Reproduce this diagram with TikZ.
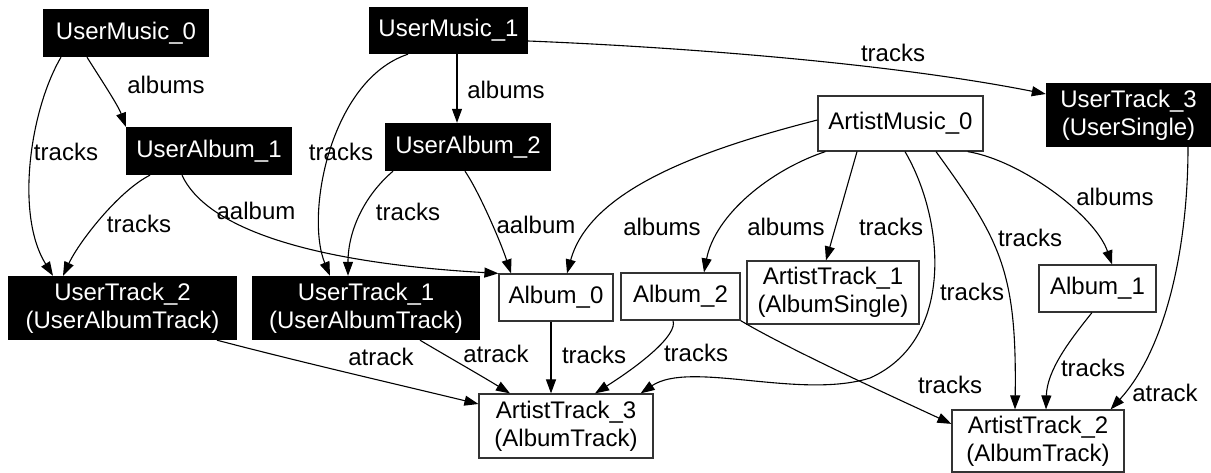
\documentclass[tikz,border=0pt]{standalone}
\usepackage{fontspec}
\setmainfont{Liberation Sans}
\usetikzlibrary{arrows.meta}
\begin{document}
\begin{tikzpicture}[x=1pt,y=-1pt,
  every node/.style={font=\fontsize{24}{28}\selectfont, inner sep=0pt, align=center},
  ublack/.style={rectangle, fill=black, text=white},
  uwhite/.style={rectangle, draw=black!80, line width=1.2pt, fill=white, text=black},
  edge/.style={line width=1.1pt, -{Triangle[length=14pt,width=10pt]}},
  lbl/.style={text=black}]
\useasboundingbox (0,0) rectangle (1211,473);
% nodes
\node[ublack, minimum width=166pt, minimum height=48pt] (um0) at (126,33) {UserMusic\_0};
\node[ublack, minimum width=159pt, minimum height=47pt] (um1) at (448.5,30.5) {UserMusic\_1};
\node[ublack, minimum width=166pt, minimum height=48pt] (ua1) at (209,151) {UserAlbum\_1};
\node[ublack, minimum width=166pt, minimum height=48pt] (ua2) at (468,147) {UserAlbum\_2};
\node[ublack, minimum width=165pt, minimum height=64pt] (ut3) at (1128.5,115) {UserTrack\_3\\(UserSingle)};
\node[uwhite, minimum width=165pt, minimum height=55pt] (am0) at (900.5,123.5) {ArtistMusic\_0};
\node[ublack, minimum width=229pt, minimum height=64pt] (ut2) at (122.5,308) {UserTrack\_2\\(UserAlbumTrack)};
\node[ublack, minimum width=228pt, minimum height=64pt] (ut1) at (366,308) {UserTrack\_1\\(UserAlbumTrack)};
\node[uwhite, minimum width=114pt, minimum height=47pt] (a0) at (556,297.5) {Album\_0};
\node[uwhite, minimum width=119pt, minimum height=47pt] (a2) at (680.5,296.5) {Album\_2};
\node[uwhite, minimum width=172pt, minimum height=63pt] (at1) at (833,292.5) {ArtistTrack\_1\\(AlbumSingle)};
\node[uwhite, minimum width=117pt, minimum height=47pt] (a1) at (1097.5,288.5) {Album\_1};
\node[uwhite, minimum width=174pt, minimum height=64pt] (at3) at (566,426) {ArtistTrack\_3\\(AlbumTrack)};
\node[uwhite, minimum width=172pt, minimum height=62pt] (at2) at (1038,441) {ArtistTrack\_2\\(AlbumTrack)};
% edges
\draw[edge] ([xshift=-39pt]um0.south) .. controls (100,78) and (118,105) .. (ua1.north west);
\draw[edge] ([xshift=-65pt]um0.south) .. controls (30,110) and (15,215) .. ([xshift=-69.5pt]ut2.north);
\draw[edge] ([xshift=-59pt]ua1.south) .. controls (120,190) and (80,240) .. ([xshift=-59.5pt]ut2.north);
\draw[edge] ([xshift=-27pt]ua1.south) .. controls (205,225) and (300,262) .. (a0.north west);
\draw[edge] ([xshift=8.5pt]um1.south) -- ([xshift=-11pt]ua2.north);
\draw[edge] ([xshift=-40.5pt]um1.south) .. controls (330,80) and (305,215) .. ([xshift=-36pt]ut1.north);
\draw[edge] ([xshift=-75pt]ua2.south) .. controls (365,195) and (348,230) .. ([xshift=-18pt]ut1.north);
\draw[edge] ([xshift=-3pt]ua2.south) .. controls (478,190) and (500,240) .. ([xshift=-45pt]a0.north);
\draw[edge] ([yshift=-10.5pt]um1.east) .. controls (700,48) and (900,65) .. ([yshift=21pt]ut3.west);
\draw[edge] ([yshift=3.5pt]am0.west) .. controls (700,150) and (590,190) .. ([xshift=11pt]a0.north);
\draw[edge] ([xshift=8pt]am0.south west) .. controls (770,170) and (715,215) .. ([xshift=23.5pt]a2.north);
\draw[edge] ([xshift=-43.5pt]am0.south) -- ([xshift=-7pt]at1.north);
\draw[edge] ([xshift=4.5pt]am0.south) .. controls (945,220) and (955,340) .. (870,378) .. controls (800,400) and (690,360) .. ([xshift=-13pt]at3.north east);
\draw[edge] ([xshift=35.5pt]am0.south) .. controls (1000,240) and (1017,270) .. ([xshift=-23pt]at2.north);
\draw[edge] ([xshift=-16pt]am0.south east) .. controls (1020,160) and (1095,215) .. ([xshift=14.5pt]a1.north);
\draw[edge] ([xshift=59.5pt]ut3.south) .. controls (1188,250) and (1165,350) .. ([xshift=-14pt]at2.north east);
\draw[edge] ([xshift=-5.5pt]a1.south) .. controls (1070,340) and (1047,370) .. ([xshift=8pt]at2.north);
\draw[edge] (a2.south east) .. controls (790,350) and (900,400) .. ([yshift=-14.5pt]at2.north west);
\draw[edge] ([xshift=-5pt]a0.south) -- ([xshift=-15pt]at3.north);
\draw[edge] ([xshift=-7.5pt]a2.south) .. controls (678,335) and (640,365) .. ([xshift=29pt]at3.north);
\draw[edge] ([xshift=54pt]ut1.south) .. controls (450,358) and (480,375) .. ([xshift=-56pt]at3.north);
\draw[edge] ([xshift=94.5pt]ut2.south) .. controls (300,362) and (400,385) .. ([yshift=22pt]at3.west);
% labels
\node[lbl] (l1) at (166,85) {albums};
\node[lbl] (l2) at (66,152) {tracks};
\node[lbl] (l3) at (139,224) {tracks};
\node[lbl] (l4) at (256,211) {aalbum};
\node[lbl] (l5) at (506,90) {albums};
\node[lbl] (l6) at (341,152) {tracks};
\node[lbl] (l7) at (408,212) {tracks};
\node[lbl] (l8) at (536,225) {aalbum};
\node[lbl] (l9) at (893,53) {tracks};
\node[lbl] (l10) at (662,227) {albums};
\node[lbl] (l11) at (786,227) {albums};
\node[lbl] (l12) at (891,227) {tracks};
\node[lbl] (l13) at (972,292) {tracks};
\node[lbl] (l14) at (1030,238) {tracks};
\node[lbl] (l15) at (1115,197) {albums};
\node[lbl] (l16) at (1165,393) {atrack};
\node[lbl] (l17) at (1093,368) {tracks};
\node[lbl] (l18) at (950,385) {tracks};
\node[lbl] (l19) at (594,355) {tracks};
\node[lbl] (l20) at (696,353) {tracks};
\node[lbl] (l21) at (496,354) {atrack};
\node[lbl] (l22) at (381,357) {atrack};
\end{tikzpicture}
\end{document}
